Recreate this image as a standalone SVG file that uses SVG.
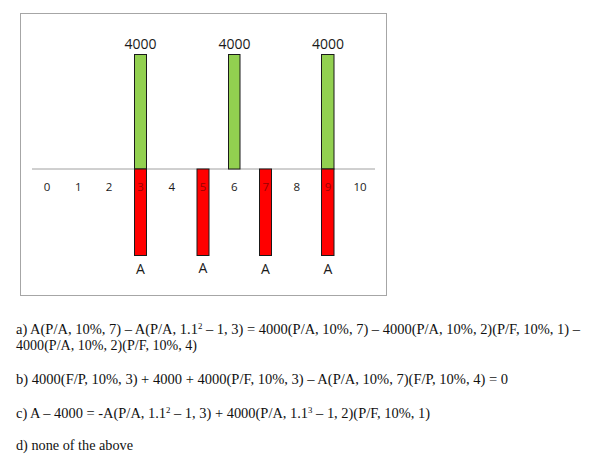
<svg xmlns="http://www.w3.org/2000/svg" width="606" height="465" viewBox="0 0 606 465">
<style>
.frame{fill:#fff;stroke:#a6a6a6;stroke-width:1}
.axis{stroke:#a0a0a0;stroke-width:1}
.g{fill:#92d050;stroke:#1a1a1a;stroke-width:1}
.r{fill:#ff0000;stroke:#1a1a1a;stroke-width:1}
.lbl{font-family:"Open Sans","Liberation Sans",sans-serif;fill:#1a1a1a;text-anchor:middle}
.num{font-size:11.5px}
.numr{font-size:11.5px;fill:#9a0000}
.big{font-size:14px}
.q{font-family:"Liberation Serif","Times New Roman",serif;font-size:14px;fill:#111}
.sup{font-size:8.5px}
</style>
<rect width="606" height="465" fill="#fff"/>
<rect class="frame" x="20.5" y="13.5" width="366" height="282"/>
<g id="connectors">
<line class="axis" x1="32" y1="169" x2="375" y2="169"/>
</g>
<g id="bar3">
<rect class="g" x="134.5" y="54.5" width="12" height="114.5"/>
<rect class="r" x="134.5" y="169" width="12" height="86.5"/>
<text class="lbl big" x="140.5" y="48.5">4000</text>
<text class="lbl big" x="140.5" y="274">A</text>
</g>
<g id="bar5">
<rect class="r" x="197" y="169" width="12" height="86.5"/>
<text class="lbl big" x="203" y="272.5">A</text>
</g>
<g id="bar6">
<rect class="g" x="228.5" y="54.5" width="11.5" height="114.5"/>
<text class="lbl big" x="234.5" y="49">4000</text>
</g>
<g id="bar7">
<rect class="r" x="259.5" y="169" width="12" height="86.5"/>
<text class="lbl big" x="265.5" y="274">A</text>
</g>
<g id="bar9">
<rect class="g" x="321.5" y="54.5" width="12.5" height="114.5"/>
<rect class="r" x="321.5" y="169" width="12.5" height="86.5"/>
<text class="lbl big" x="328" y="48.5">4000</text>
<text class="lbl big" x="328" y="274">A</text>
</g>
<g id="ticks">
<text class="lbl num" x="47" y="190.5">0</text>
<text class="lbl num" x="78.3" y="190.5">1</text>
<text class="lbl num" x="109" y="190.5">2</text>
<text class="lbl numr" x="140.5" y="190.5">3</text>
<text class="lbl num" x="171.7" y="190.5">4</text>
<text class="lbl numr" x="203" y="190.5">5</text>
<text class="lbl num" x="234.3" y="190.5">6</text>
<text class="lbl numr" x="265.7" y="190.5">7</text>
<text class="lbl num" x="296.7" y="190.5">8</text>
<text class="lbl numr" x="328" y="190.5">9</text>
<text class="lbl num" x="360" y="190.5">10</text>
</g>
<g id="options">
<text class="q" x="16" y="334" textLength="564" lengthAdjust="spacingAndGlyphs">a) A(P/A, 10%, 7) – A(P/A, 1.1<tspan class="sup" dy="-5">2</tspan><tspan dy="5"> – 1, 3) = 4000(P/A, 10%, 7) – 4000(P/A, 10%, 2)(P/F, 10%, 1) –</tspan></text>
<text class="q" x="16" y="350" textLength="181" lengthAdjust="spacingAndGlyphs">4000(P/A, 10%, 2)(P/F, 10%, 4)</text>
<text class="q" x="16" y="383.5" textLength="492" lengthAdjust="spacingAndGlyphs">b) 4000(F/P, 10%, 3) + 4000 + 4000(P/F, 10%, 3) – A(P/A, 10%, 7)(F/P, 10%, 4) = 0</text>
<text class="q" x="16" y="417.5" textLength="414" lengthAdjust="spacingAndGlyphs">c) A – 4000 = -A(P/A, 1.1<tspan class="sup" dy="-5">2</tspan><tspan dy="5"> – 1, 3) + 4000(P/A, 1.1</tspan><tspan class="sup" dy="-5">3</tspan><tspan dy="5"> – 1, 2)(P/F, 10%, 1)</tspan></text>
<text class="q" x="16" y="450" textLength="117" lengthAdjust="spacingAndGlyphs">d) none of the above</text>
</g>
</svg>
